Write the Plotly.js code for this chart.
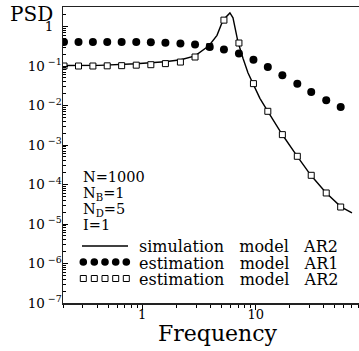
<!DOCTYPE html>
<html>
<head>
<meta charset="utf-8">
<script src="https://cdn.plot.ly/plotly-3.0.1.min.js"></script>
<style>html,body{margin:0;padding:0;overflow:hidden;background:#fff}</style>
</head>
<body>
<div id="chart" style="width:359px;height:351px"></div>
<script>
// ---- data ----
const freqEst = [0.204, 0.274, 0.367, 0.491, 0.658, 0.885, 1.19, 1.60, 2.17, 2.92, 3.93, 5.25, 7.12, 9.56, 12.8, 17.2, 23.3, 30.9, 41.9, 56.2];
const psdAR1 = [0.405, 0.405, 0.405, 0.405, 0.405, 0.405, 0.40, 0.387, 0.369, 0.348, 0.303, 0.260, 0.206, 0.1435, 0.0944, 0.0582, 0.0358, 0.0220, 0.01355, 0.00917];
const psdAR2 = [0.100, 0.100, 0.100, 0.101, 0.102, 0.105, 0.108, 0.115, 0.126, 0.169, 0.31, 1.45, 0.382, 0.0358, 0.00713, 0.00183, 5.18e-4, 1.71e-4, 6.1e-5, 2.69e-5];
const freqSim = [0.2, 0.415, 0.88, 1.585, 2.19, 2.92, 3.87, 4.56, 5.15, 5.58, 5.93, 6.31, 6.57, 6.98, 7.73, 8.55, 9.47, 10.9, 12.8, 17.1, 23.1, 30.7, 41.7, 56.5, 70.7];
const psdSim = [0.103, 0.104, 0.114, 0.128, 0.144, 0.181, 0.325, 0.598, 1.44, 1.87, 2.20, 1.66, 0.955, 0.41, 0.157, 0.0673, 0.0358, 0.0152, 0.00713, 0.00187, 5.33e-4, 1.71e-4, 6.17e-5, 2.72e-5, 1.92e-5];

const yTickVals = [1e-7, 1e-6, 1e-5, 1e-4, 1e-3, 1e-2, 1e-1, 1];
const yTickText = ['10<sup> \u22127</sup>', '10<sup> \u22126</sup>', '10<sup> \u22125</sup>', '10<sup> \u22124</sup>', '10<sup> \u22123</sup>', '10<sup> \u22122</sup>', '10<sup> \u22121</sup>', '1\u00a0\u00a0'];
const xTickVals = [1, 10];
const xTickText = ['1', '10'];
const SP = '\u00a0\u00a0\u00a0';
const legendNames = ['simulation' + SP + 'model' + SP + 'AR2', 'estimation' + SP + 'model' + SP + 'AR1', 'estimation' + SP + 'model' + SP + 'AR2'];
const infoLines = ['N=1000', 'N<sub>B</sub>=1', 'N<sub>D</sub>=5', 'I=1'];

// ---- layout geometry (pixels) ----
const L = 63, R = 359, T = 7, B = 303, W = R - L, H = B - T;
const px = x => (x - L) / W;
const py = y => (B - y) / H;
const FONT = 'DejaVu Serif, serif';

const minorX = [];
[0.1, 1, 10].forEach(d => { for (let k = 2; k <= 9; k++) minorX.push(k * d); });
const minorY = [];
for (let e = -7; e <= 0; e++) for (let k = 2; k <= 9; k++) minorY.push(k * Math.pow(10, e));

const traces = [
  {x: freqSim, y: psdSim, type: 'scatter', mode: 'lines', line: {color: '#000', width: 1.4}, showlegend: false},
  {x: freqEst, y: psdAR2, type: 'scatter', mode: 'markers', marker: {symbol: 'square', size: 6, color: '#fff', line: {color: '#000', width: 1}}, showlegend: false},
  {x: freqEst, y: psdAR1, type: 'scatter', mode: 'markers', marker: {symbol: 'circle', size: 8, color: '#000', line: {width: 0}}, showlegend: false}
];

const annotations = [
  {text: 'PSD', x: px(31), y: py(14), font: {size: 20}},
  {text: 'Frequency', x: px(218), y: py(333), font: {size: 22}}
];
const infoY = [177, 193.5, 209.5, 224.5];
infoLines.forEach((t, i) => annotations.push({text: t, x: px(81), y: py(infoY[i]), xanchor: 'left', font: {size: 14.5}}));
const legY = [247, 263, 279];
legendNames.forEach((t, i) => annotations.push({text: t, x: px(137), y: py(legY[i]), xanchor: 'left', font: {size: 16}}));
annotations.forEach(a => {
  a.xref = 'paper'; a.yref = 'paper'; a.showarrow = false;
  if (!a.xanchor) a.xanchor = 'center';
  a.yanchor = 'middle';
  a.font = Object.assign({family: FONT, color: '#000'}, a.font);
});

const shapes = [{type: 'line', xref: 'paper', yref: 'paper', x0: px(82), x1: px(128), y0: py(246), y1: py(246), line: {color: '#000', width: 1.4}}];
const symX = [83.3, 94.3, 105, 115.7, 126.3];
symX.forEach(cx => {
  const r = 3.8;
  shapes.push({type: 'circle', xref: 'paper', yref: 'paper', x0: px(cx - r), x1: px(cx + r), y0: py(262 + r), y1: py(262 - r), fillcolor: '#000', line: {width: 0}});
  const s = 3;
  shapes.push({type: 'rect', xref: 'paper', yref: 'paper', x0: px(cx - s), x1: px(cx + s), y0: py(278.5 + s), y1: py(278.5 - s), fillcolor: '#fff', line: {color: '#000', width: 1}});
});

const layout = {
  width: 359, height: 351,
  margin: {l: L, r: 0, t: T, b: 351 - B, pad: 0},
  paper_bgcolor: '#fff', plot_bgcolor: '#fff',
  showlegend: false,
  font: {family: FONT, color: '#000', size: 13},
  xaxis: {
    type: 'log', range: [Math.log10(0.2), Math.log10(0.2) + W / 113.4],
    tickvals: xTickVals, ticktext: xTickText, ticks: 'outside', ticklen: 5, tickcolor: '#000', tickwidth: 1,
    showline: true, linecolor: '#222', linewidth: 1.5, mirror: true, showgrid: false, zeroline: false,
    tickfont: {family: FONT, size: 13, color: '#000'}, ticklabelstandoff: -6,
    minor: {tickvals: minorX, ticks: 'outside', ticklen: 3, tickcolor: '#000', tickwidth: 1, showgrid: false}
  },
  yaxis: {
    type: 'log', range: [-7, 0.494],
    tickvals: yTickVals, ticktext: yTickText, ticks: 'inside', ticklen: 5, tickcolor: '#000', tickwidth: 1,
    showline: true, linecolor: '#222', linewidth: 1.5, mirror: false, showgrid: false, zeroline: false,
    tickfont: {family: FONT, size: 13.5, color: '#000'}, ticklabelstandoff: -3,
    minor: {tickvals: minorY, ticks: 'inside', ticklen: 3, tickcolor: '#000', tickwidth: 1, showgrid: false}
  },
  annotations: annotations,
  shapes: shapes
};

Plotly.newPlot('chart', traces, layout, {staticPlot: true, displayModeBar: false});
</script>
</body>
</html>
